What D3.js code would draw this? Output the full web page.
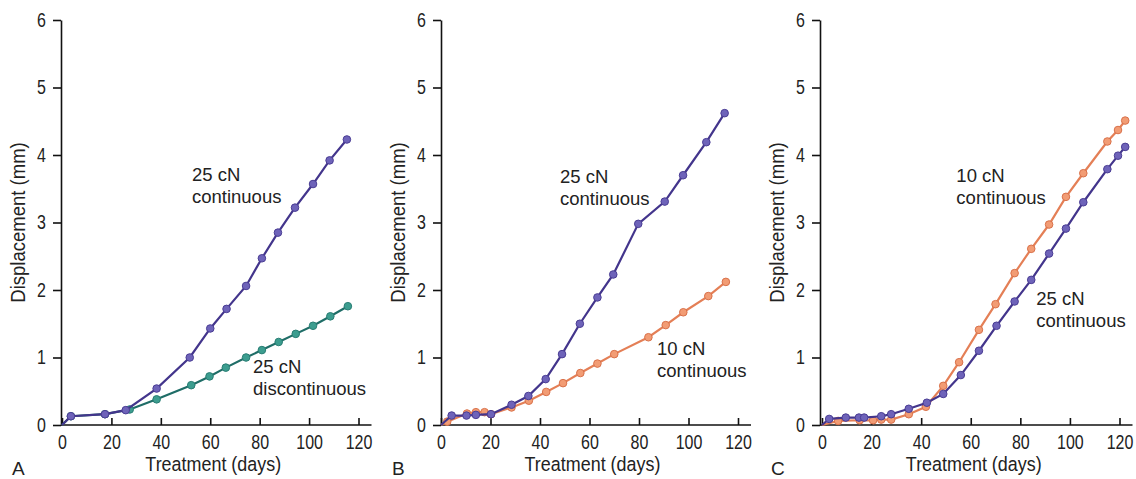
<!DOCTYPE html>
<html lang="en">
<head>
<meta charset="utf-8">
<script src="https://cdn.jsdelivr.net/npm/d3@7"></script>
<style>
  body { margin: 0; background: #fff; }
  svg text { font-family: "Liberation Sans", Arial, sans-serif; fill: #222; }
</style>
</head>
<body>
<script>
// tick values
const xTicks = [0, 20, 40, 60, 80, 100, 120];
const yTicks = [0, 1, 2, 3, 4, 5, 6];

// panel A
const aDaysCont = [0, 3.6, 17.4, 25.8, 38.3, 51.7, 60, 66.6, 74.5, 80.9, 87.4, 94.3, 101.6, 108.3, 115.3];
const aValsCont = [0, 0.13, 0.16, 0.22, 0.54, 1.00, 1.43, 1.72, 2.06, 2.47, 2.85, 3.22, 3.57, 3.92, 4.23];
const aDaysDisc = [0, 3.6, 17.4, 27.4, 38.3, 52.3, 59.7, 66.3, 74.5, 80.9, 87.7, 94.6, 101.6, 108.6, 115.7];
const aValsDisc = [0, 0.13, 0.16, 0.23, 0.38, 0.59, 0.72, 0.85, 1.00, 1.11, 1.23, 1.35, 1.47, 1.61, 1.76];

// panel B
const bDays25 = [0, 4.3, 10.3, 14.1, 20.2, 28.5, 35.3, 42.3, 48.9, 56.1, 63.2, 69.6, 79.7, 90.4, 97.8, 107.2, 114.6];
const bVals25 = [0, 0.14, 0.14, 0.15, 0.16, 0.30, 0.43, 0.68, 1.05, 1.50, 1.89, 2.23, 2.98, 3.31, 3.70, 4.19, 4.62];
const bDays10 = [0, 2.5, 10.5, 14.1, 17.6, 20.2, 28.5, 35.5, 42.5, 49.3, 56.3, 63.2, 70, 83.8, 90.8, 97.9, 108, 115.1];
const bVals10 = [0, 0.05, 0.17, 0.19, 0.19, 0.16, 0.26, 0.36, 0.49, 0.62, 0.77, 0.91, 1.05, 1.30, 1.48, 1.67, 1.91, 2.12];

// panel C
const cDays25 = [0, 2.9, 9.6, 14.9, 17, 23.9, 27.9, 35, 42.3, 48.9, 56, 63.3, 70.4, 77.7, 84.4, 91.6, 98.4, 105.4, 115.1, 119.4, 122.3];
const cVals25 = [0, 0.09, 0.11, 0.11, 0.11, 0.13, 0.16, 0.24, 0.33, 0.46, 0.74, 1.10, 1.47, 1.83, 2.15, 2.54, 2.91, 3.30, 3.79, 3.99, 4.12];
const cDays10 = [0, 6.5, 15.2, 20.6, 23.9, 27.9, 35, 41.9, 48.9, 55.3, 63.3, 70, 77.7, 84.4, 91.6, 98.4, 105.4, 115.1, 119.4, 122.3];
const cVals10 = [0, 0.06, 0.07, 0.07, 0.08, 0.08, 0.16, 0.27, 0.58, 0.93, 1.41, 1.79, 2.25, 2.61, 2.97, 3.38, 3.73, 4.20, 4.37, 4.51];

// curve labels, anchored in data units (day, mm)
const aLabels = [{lines: ["25 cN", "continuous"], day: 52.6, mm: 3.61},
                 {lines: ["25 cN", "discontinuous"], day: 77.3, mm: 0.77}];
const bLabels = [{lines: ["25 cN", "continuous"], day: 48.1, mm: 3.59},
                 {lines: ["10 cN", "continuous"], day: 87.3, mm: 1.04}];
const cLabels = [{lines: ["10 cN", "continuous"], day: 54.2, mm: 3.6},
                 {lines: ["25 cN", "continuous"], day: 86.4, mm: 1.78}];

const purple = {line: "#43358c", fill: "#6e63b9", edge: "#4a3d94"};
const teal   = {line: "#1f6d67", fill: "#3c9d8f", edge: "#287d73"};
const orange = {line: "#e47f56", fill: "#f29c74", edge: "#d9714a"};

const zip = (a, b) => a.map((d, i) => [d, b[i]]);

const panels = [
  {letter: "A", axisX: 61, x0: 62, x120: 358.5, labels: aLabels,
   series: [{pts: zip(aDaysDisc, aValsDisc), col: teal}, {pts: zip(aDaysCont, aValsCont), col: purple}]},
  {letter: "B", axisX: 441, x0: 441, x120: 738, labels: bLabels,
   series: [{pts: zip(bDays10, bVals10), col: orange}, {pts: zip(bDays25, bVals25), col: purple}]},
  {letter: "C", axisX: 820, x0: 822, x120: 1119.5, labels: cLabels,
   series: [{pts: zip(cDays10, cVals10), col: orange}, {pts: zip(cDays25, cVals25), col: purple}]}
];

const w = 1136, h = 479;
const yTop = 20, yBottom = 425;

const svg = d3.select("body").append("svg")
  .attr("width", w)
  .attr("height", h);

// the original lettering is narrow: scale glyphs along the text direction
const squeeze = (sel, k) => {
  sel.each(function () {
    const t = d3.select(this);
    const x = +t.attr("x") || 0;
    t.attr("x", x / k)
     .attr("transform", (t.attr("transform") || "") + " scale(" + k + ",1)");
  });
};

// d3 axes set their own font on the group, so restyle afterwards
const styleAxis = (a) => {
  a.attr("font-size", 19.5).attr("font-family", null).attr("color", "#111");
  a.selectAll("path, line").attr("stroke-width", 1.6);
  squeeze(a.selectAll("text"), 0.82);
};

panels.forEach((p) => {
  const x = d3.scaleLinear().domain([0, 120]).range([p.x0, p.x120]);
  const y = d3.scaleLinear().domain([0, 6]).range([yBottom, yTop]);
  const g = svg.append("g");

  // y axis
  g.append("g")
    .attr("transform", "translate(" + p.axisX + ",0)")
    .call(d3.axisLeft(y).tickValues(yTicks).tickFormat(d3.format("d"))
      .tickSize(8).tickPadding(7).tickSizeOuter(0))
    .call(styleAxis);

  // x axis, ticks pointing up
  const xa = g.append("g")
    .attr("transform", "translate(0," + yBottom + ")")
    .call(d3.axisBottom(x).tickValues(xTicks).tickFormat(d3.format("d"))
      .tickSizeInner(-7).tickPadding(10).tickSizeOuter(0))
    .call(styleAxis);
  xa.select(".domain").remove();
  xa.append("line")
    .attr("x1", p.axisX)
    .attr("x2", p.x120 + 13)
    .attr("stroke", "#111")
    .attr("stroke-width", 1.6);

  // axis titles
  g.append("text")
    .attr("transform", "translate(" + (p.axisX - 36) + "," + ((yTop + yBottom) / 2) + ") rotate(-90)")
    .attr("text-anchor", "middle")
    .attr("font-size", 19.5)
    .text("Displacement (mm)")
    .call(squeeze, 0.95);

  g.append("text")
    .attr("x", (p.x0 + p.x120) / 2 + 3)
    .attr("y", 471)
    .attr("text-anchor", "middle")
    .attr("font-size", 19.5)
    .text("Treatment (days)")
    .call(squeeze, 0.92);

  g.append("text")
    .attr("x", p.axisX - 49)
    .attr("y", 475)
    .attr("font-size", 19)
    .text(p.letter);

  // series
  const line = d3.line().x((d) => x(d[0])).y((d) => y(d[1]));
  p.series.forEach((s) => {
    g.append("path")
      .attr("d", line(s.pts))
      .attr("fill", "none")
      .attr("stroke", s.col.line)
      .attr("stroke-width", 2.2);
    g.selectAll(null)
      .data(s.pts.filter((d) => d[0] > 0))
      .enter()
      .append("circle")
      .attr("cx", (d) => x(d[0]))
      .attr("cy", (d) => y(d[1]))
      .attr("r", 3.8)
      .attr("fill", s.col.fill)
      .attr("stroke", s.col.edge)
      .attr("stroke-width", 1);
  });

  // curve labels
  p.labels.forEach((l) => {
    const t = g.append("text")
      .attr("x", x(l.day))
      .attr("y", y(l.mm))
      .attr("font-size", 18.5);
    l.lines.forEach((s, i) => {
      t.append("tspan")
        .attr("x", x(l.day))
        .attr("dy", i === 0 ? 0 : 22)
        .text(s);
    });
  });
});
</script>
</body>
</html>
